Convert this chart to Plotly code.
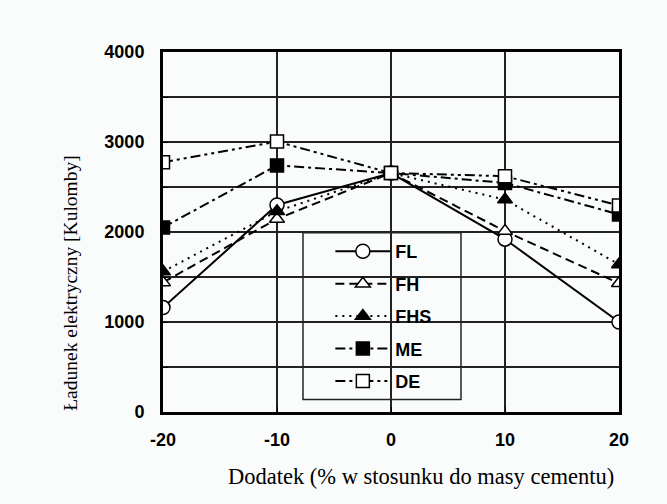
import plotly.graph_objects as go

dodatek = [-20, -10, 0, 10, 20]
x_labels = ["-20", "-10", "0", "10", "20"]
FL = [1160, 2300, 2655, 1920, 1000]
FH = [1440, 2145, 2655, 2010, 1430]
FHS = [1560, 2230, 2655, 2360, 1640]
ME = [2050, 2740, 2655, 2545, 2195]
DE = [2775, 3005, 2655, 2620, 2295]

series = [
    ("FL", FL, "solid", "circle", "white", 14),
    ("FH", FH, "9px,5px", "triangle-up", "white", 13),
    ("FHS", FHS, "2px,5px", "triangle-up", "black", 13),
    ("ME", ME, "10px,4px,3px,4px", "square", "black", 13),
    ("DE", DE, "10px,4px,3px,4px,3px,4px", "square", "white", 13),
]

fig = go.Figure()
for name, vals, dash, sym, fill, size in series:
    fig.add_trace(go.Scatter(
        x=dodatek, y=vals, name=name, legendgroup=name,
        mode="lines+markers",
        line=dict(color="black", width=2, dash=dash),
        marker=dict(symbol=sym, size=size, color=fill,
                    line=dict(color="black", width=1.5)),
    ))

bg = "#fafcfc"
yt = list(range(0, 4001, 500))
tickfont = dict(family="Liberation Sans, Arial", size=18, color="black", weight="bold")
fig.update_layout(
    width=667, height=504,
    margin=dict(l=163, r=48, t=52, b=92),
    paper_bgcolor=bg, plot_bgcolor=bg,
    font=dict(family="Liberation Sans, Arial", size=18, color="black"),
    showlegend=True,
    legend=dict(x=0.367, y=0.497, xanchor="left", yanchor="top",
                bgcolor="rgba(0,0,0,0)", borderwidth=0,
                font=dict(size=18, weight="bold", color="black"),
                itemwidth=55, tracegroupgap=6),
    xaxis=dict(range=[-20, 20], tickvals=dodatek, ticktext=x_labels, tickfont=tickfont,
               showgrid=True, gridcolor="#222", gridwidth=1.5,
               showline=True, linecolor="black", linewidth=3, mirror=True,
               ticks="inside", ticklen=5, tickcolor="black", zeroline=False,
               ticklabelstandoff=9),
    yaxis=dict(range=[0, 4000], tickvals=yt, tickfont=tickfont,
               ticktext=[str(v) if v % 1000 == 0 else "" for v in yt],
               showgrid=True, gridcolor="#222", gridwidth=1.5,
               showline=True, linecolor="black", linewidth=3, mirror=True,
               ticks="inside", ticklen=5, tickcolor="black", zeroline=False,
               ticklabelstandoff=12),
    shapes=[dict(type="rect", xref="paper", yref="paper",
                 x0=0.307, x1=0.6535, y0=0.035, y1=0.498,
                 fillcolor=bg, line=dict(color="#222", width=1.5),
                 layer="between")],
    annotations=[
        dict(text="Dodatek (% w stosunku do masy cementu)", xref="paper", yref="paper",
             x=0.565, y=-0.18, xanchor="center", yanchor="middle", showarrow=False,
             font=dict(family="Liberation Serif, Times New Roman", size=22.5, color="black")),
        dict(text="Ładunek elektryczny [Kulomby]", xref="paper", yref="paper",
             x=-0.203, y=0.36, xanchor="center", yanchor="middle", showarrow=False,
             textangle=-90,
             font=dict(family="Liberation Serif, Times New Roman", size=19.5, color="black")),
    ],
)

fig.write_html("out.html")
